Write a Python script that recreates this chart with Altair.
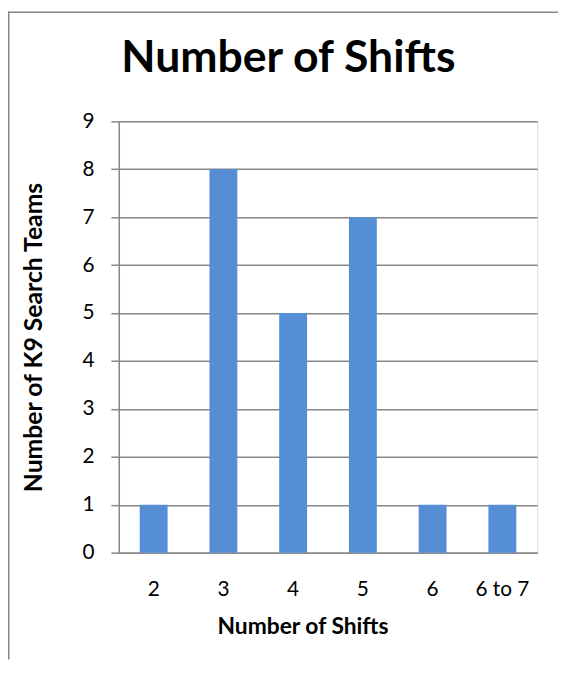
import altair as alt
import pandas as pd

categories = ["2", "3", "4", "5", "6", "6 to 7"]
teams = [1, 8, 5, 7, 1, 1]
y_ticks = list(range(0, 10))

df = pd.DataFrame({"shifts": categories, "teams": teams})

FONT = "Lato"
GRAY = "#878787"

bars = alt.Chart(df).mark_bar(color="#558ED5").encode(
    x=alt.X(
        "shifts:N",
        sort=categories,
        scale=alt.Scale(paddingInner=0.6, paddingOuter=0.3),
        axis=alt.Axis(
            title="Number of Shifts", labelAngle=0, ticks=False, tickSize=0,
            labelFontSize=21, labelFont=FONT, labelColor="black",
            labelBaseline="alphabetic", labelPadding=43,
            domainColor=GRAY, domainWidth=1.5, grid=False,
            titleFont=FONT, titleFontSize=23, titleFontWeight="bold",
            titleColor="black", titleX=185.7, titleY=82,
            titleAlign="center", titleBaseline="alphabetic",
        ),
    ),
    y=alt.Y(
        "teams:Q",
        scale=alt.Scale(domain=[0, 9], nice=False),
        axis=alt.Axis(
            values=y_ticks, title="Number of K9 Search Teams",
            tickSize=8, tickColor=GRAY, tickWidth=1.5,
            labelPadding=17, labelFontSize=21, labelFont=FONT, labelColor="black",
            domainColor=GRAY, domainWidth=1.5,
            grid=True, gridColor=GRAY, gridWidth=1.5,
            titleFont=FONT, titleFontSize=25, titleFontWeight="bold", titleColor="black",
            titleX=-86, titleY=218, titleAngle=-90,
            titleBaseline="middle", titleAlign="center",
        ),
    ),
)

border_df = pd.DataFrame({"k": [0]})
left_border = alt.Chart(border_df).mark_rule(color=GRAY, strokeWidth=1.5).encode(
    x=alt.value(-111.25), y=alt.value(-111), y2=alt.value(544)
)
top_border = alt.Chart(border_df).mark_rule(color=GRAY, strokeWidth=1.5).encode(
    x=alt.value(-112), x2=alt.value(444), y=alt.value(-110.25)
)

chart = alt.layer(bars, left_border, top_border).properties(
    width=423,
    height=436,
    autosize=alt.AutoSizeParams(type="none"),
    padding={"left": 112, "top": 111, "right": 21, "bottom": 108},
    title=alt.TitleParams(
        "Number of Shifts", font=FONT, fontSize=45, fontWeight="bold",
        anchor="middle", dx=-40, offset=-107, baseline="alphabetic", color="black",
    ),
).configure_view(stroke=None).configure(background="white")

chart.save("out.html", embed_options={"renderer": "svg", "actions": False})
